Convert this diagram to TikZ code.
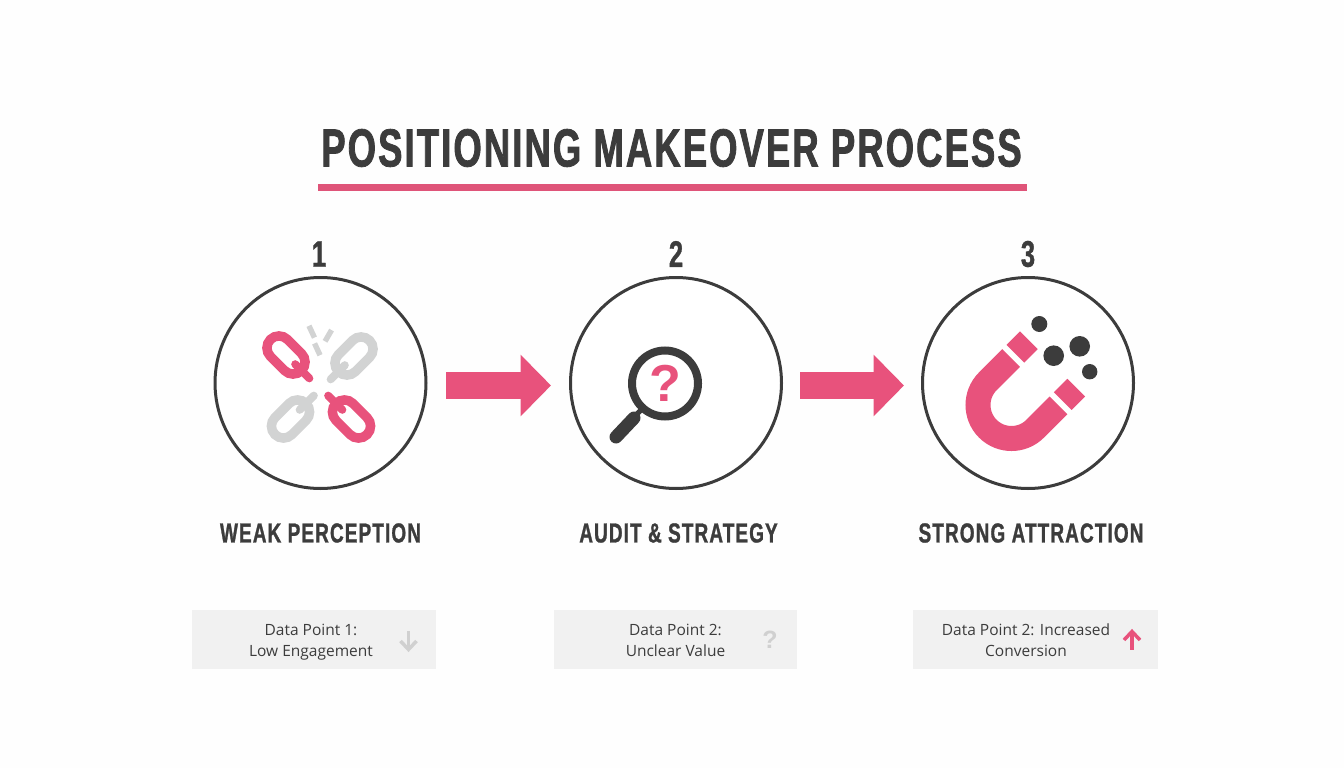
\documentclass[tikz,border=0pt]{standalone}
\usepackage{fontspec}
\usetikzlibrary{arrows.meta}
\setmainfont{Liberation Sans}
\newfontfamily\titlef[FakeStretch=0.68,LetterSpace=4,FakeBold=1.5]{Liberation Sans}
\newfontfamily\headf[FakeStretch=0.69,LetterSpace=4,FakeBold=1]{Liberation Sans}
\newfontfamily\bodyf{Open Sans}
\definecolor{ink}{HTML}{3C3C3C}
\definecolor{rosepk}{HTML}{E8527C}
\definecolor{rulepk}{HTML}{DF5479}
\definecolor{lgray}{HTML}{D2D3D3}
\definecolor{boxg}{HTML}{F1F1F1}
\definecolor{arrg}{HTML}{D0D0D0}
\definecolor{bg}{HTML}{FEFEFE}
\tikzset{
  ringnode/.style={circle,draw=ink,line width=3pt,minimum size=211pt,inner sep=0pt,fill=white},
  numlabel/.style={font=\headf\bfseries\fontsize{37}{37}\selectfont,text=ink,inner sep=0pt},
  steplabel/.style={font=\headf\bfseries\fontsize{27.5}{30}\selectfont,text=ink,inner sep=0pt},
  databox/.style={fill=boxg,minimum height=59pt,inner sep=0pt},
  datatext/.style={font=\bodyf\fontsize{15.5}{21}\selectfont,text=ink,align=center,inner sep=0pt},
  blockarrow/.style={rosepk,line width=27pt,-{Triangle[length=30.5pt,width=60pt]}},
}
\newcommand{\chainlink}[4]{%
  \begin{scope}[shift={(#1,#2)},rotate=#3]
    \draw[#4,line width=9.5pt,rounded corners=12pt] (-22,-12) rectangle (22,12);
    \draw[#4,line width=8pt,line cap=round] (13,0) -- (33,0);
  \end{scope}}
\newcommand{\shard}[3]{%
  \fill[lgray,shift={(#1,#2)},rotate=#3] (-6.5,-2.7) rectangle (6.5,2.7);}
\begin{document}
\begin{tikzpicture}[x=1pt,y=-1pt]
\useasboundingbox (0,0) rectangle (1344,768);
\fill[bg] (0,0) rectangle (1344,768);

% title
\node[font=\titlef\bfseries\fontsize{53.5}{53.5}\selectfont,text=ink,inner sep=0pt] (title) at (671.5,148) {POSITIONING MAKEOVER PROCESS};
\fill[rulepk] (318,183.5) rectangle (1027,190.5);

% rings
\node[ringnode] (c1) at (320.5,383) {};
\node[ringnode] (c2) at (676,383) {};
\node[ringnode] (c3) at (1028,383) {};

% numbers
\node[numlabel] (n1) at (319,254) {1};
\node[numlabel] (n2) at (676,254) {2};
\node[numlabel] (n3) at (1028,254) {3};

% block arrows
\draw[blockarrow] ([xshift=18.5pt,yshift=-2.5pt]c1.east) -- ([xshift=-18pt,yshift=-2.5pt]c2.west);
\draw[blockarrow] ([xshift=17pt,yshift=-2.5pt]c2.east) -- ([xshift=-17pt,yshift=-2.5pt]c3.west);

% chain icon
\chainlink{286}{355}{-45}{rosepk}
\chainlink{354}{356}{-135}{lgray}
\chainlink{290.5}{419}{45}{lgray}
\chainlink{351.5}{419}{135}{rosepk}
\shard{311.7}{331.7}{-65}
\shard{328.3}{335.7}{-120}
\shard{317.3}{349.3}{-65}

% magnifier icon
\draw[ink,line width=8pt] (665,383.5) circle (33);
\draw[ink,line width=5pt] (643,408) -- (632,419);
\draw[ink,line width=13pt,line cap=round] (634,418) -- (616,437);
\node[font=\bfseries\fontsize{52}{52}\selectfont,text=rosepk,inner sep=0pt] (qm) at (665,383.5) {?};

% magnet icon
\begin{scope}[shift={(1011.5,405)},rotate=45,y=1pt]
  \draw[rosepk,line width=25pt] (33,33.5) -- (0,33.5) arc[start angle=90,end angle=270,radius=33.5] -- (33,-33.5);
  \fill[rosepk] (39,21) rectangle (58,46);
  \fill[rosepk] (39,-21) rectangle (58,-46);
\end{scope}
\fill[ink] (1039.3,324) circle (8);
\fill[ink] (1053.7,355.7) circle (10.3);
\fill[ink] (1079.7,346.3) circle (10.3);
\fill[ink] (1089.7,371.7) circle (7.7);

% step labels
\node[steplabel] (l1) at (320.5,533) {WEAK PERCEPTION};
\node[steplabel] (l2) at (678.5,533) {AUDIT \& STRATEGY};
\node[steplabel] (l3) at (1031,533) {STRONG ATTRACTION};

% data boxes
\node[databox,minimum width=244pt] (b1) at (314,639.5) {};
\node[databox,minimum width=243pt] (b2) at (675.5,639.5) {};
\node[databox,minimum width=245pt] (b3) at (1035.5,639.5) {};
\node[datatext] (t1) at (311,642.5) {Data Point 1:\\Low Engagement};
\node[datatext] (t2) at (675.5,640.5) {Data Point 2:\\Unclear Value};
\node[datatext] (t3) at (1026,640.5) {Data Point 2: Increased\\Conversion};
\draw[arrg,line width=3.5pt] (408.5,631) -- (408.5,649);
\draw[arrg,line width=3.5pt] (400.5,641) -- (408.5,649.5) -- (416.5,641);
\node[font=\bfseries\fontsize{25}{25}\selectfont,text=arrg,inner sep=0pt] (q2) at (770,640) {?};
\draw[rosepk,line width=3.5pt] (1132,649.5) -- (1132,632);
\draw[rosepk,line width=3.5pt] (1124,640) -- (1132,631.5) -- (1140,640);
\end{tikzpicture}
\end{document}
